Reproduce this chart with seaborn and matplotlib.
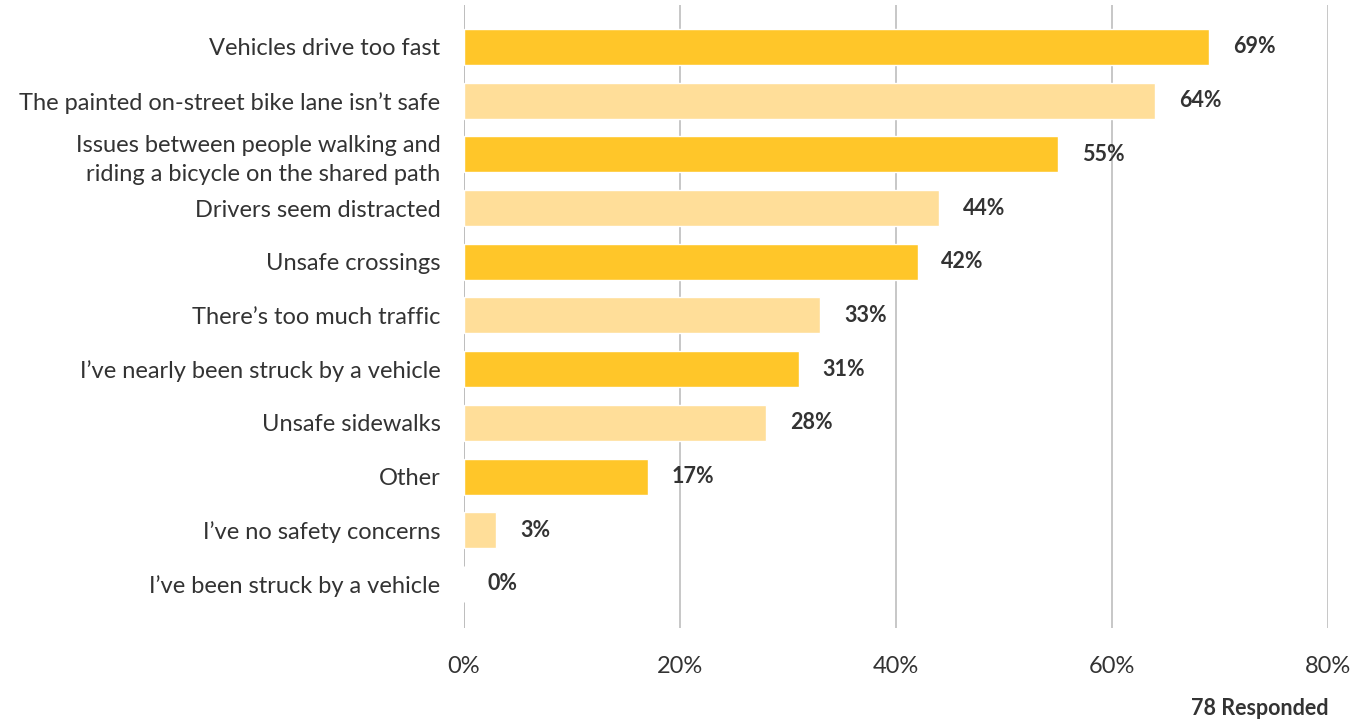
import matplotlib
matplotlib.use("Agg")
import matplotlib.pyplot as plt
import seaborn as sns
import pandas as pd

categories = [
    "Vehicles drive too fast",
    "The painted on-street bike lane isn\u2019t safe",
    "Issues between people walking and\nriding a bicycle on the shared path",
    "Drivers seem distracted",
    "Unsafe crossings",
    "There\u2019s too much traffic",
    "I\u2019ve nearly been struck by a vehicle",
    "Unsafe sidewalks",
    "Other",
    "I\u2019ve no safety concerns",
    "I\u2019ve been struck by a vehicle",
]
percent = [69, 64, 55, 44, 42, 33, 31, 28, 17, 3, 0]
x_ticks = [0, 20, 40, 60, 80]
respondents = 78

dark = "#FFC629"
light = "#FFDE99"
text_color = "#333333"
grid_color = "#BDBDBD"

sns.set_theme(style="white")
plt.rcParams["font.family"] = ["Lato", "DejaVu Sans"]

df = pd.DataFrame({"label": categories, "pct": percent})
palette = {c: (dark if i % 2 == 0 else light) for i, c in enumerate(categories)}

fig = plt.figure(figsize=(13.66, 7.23), dpi=100)
ax = fig.add_axes([0.3397, 0.1314, 0.9722 - 0.3397, 0.993 - 0.1314])

sns.barplot(data=df, x="pct", y="label", hue="label", palette=palette,
            legend=False, width=0.67, saturation=1, ax=ax, zorder=2)

ax.set_xlim(0, 80)
ax.set_ylim(len(categories) - 1 + 0.82, -0.78)
ax.set_xticks(x_ticks)
ax.set_xticklabels([f"{t}%" for t in x_ticks])
ax.xaxis.grid(True, color=grid_color, linewidth=1.2, zorder=0)
ax.set_axisbelow(True)
for s in ax.spines.values():
    s.set_visible(False)
ax.axvline(0, color=grid_color, linewidth=1.2, zorder=1)

ax.set_xlabel("")
ax.set_ylabel("")
ax.tick_params(axis="x", length=0, pad=20, labelsize=17, labelcolor=text_color)
ax.tick_params(axis="y", length=0, pad=17, labelsize=17, labelcolor=text_color)
for lbl in ax.get_yticklabels():
    lbl.set_linespacing(1.45)

for i, v in enumerate(percent):
    ax.annotate(f"{v}%", xy=(v, i), xytext=(17, 0), textcoords="offset points",
                ha="left", va="center", fontsize=15.5, fontweight="bold",
                color=text_color)

fig.text(0.9722, 0.006, f"{respondents} Responded", ha="right", va="bottom",
         fontsize=15.5, fontweight="bold", color=text_color)

fig.savefig("out.png", dpi=100)
